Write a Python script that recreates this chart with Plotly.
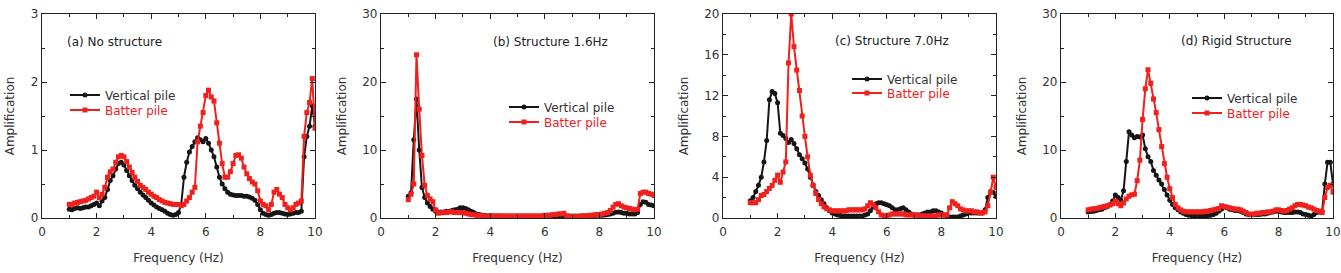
import plotly.graph_objects as go

FREQ = [1.0, 1.1, 1.2, 1.3, 1.4, 1.5, 1.6, 1.7, 1.8, 1.9,
        2.0, 2.1, 2.2, 2.3, 2.4, 2.5, 2.6, 2.7, 2.8, 2.9,
        3.0, 3.1, 3.2, 3.3, 3.4, 3.5, 3.6, 3.7, 3.8, 3.9,
        4.0, 4.1, 4.2, 4.3, 4.4, 4.5, 4.6, 4.7, 4.8, 4.9,
        5.0, 5.1, 5.2, 5.3, 5.4, 5.5, 5.6, 5.7, 5.8, 5.9,
        6.0, 6.1, 6.2, 6.3, 6.4, 6.5, 6.6, 6.7, 6.8, 6.9,
        7.0, 7.1, 7.2, 7.3, 7.4, 7.5, 7.6, 7.7, 7.8, 7.9,
        8.0, 8.1, 8.2, 8.3, 8.4, 8.5, 8.6, 8.7, 8.8, 8.9,
        9.0, 9.1, 9.2, 9.3, 9.4, 9.5, 9.6, 9.7, 9.8, 9.9,
        10.0]

# (a) No structure
VERT_A = [0.13, 0.12, 0.14, 0.15, 0.14, 0.15, 0.16, 0.16, 0.18, 0.20,
          0.22, 0.18, 0.25, 0.30, 0.42, 0.55, 0.62, 0.72, 0.80, 0.82,
          0.78, 0.70, 0.62, 0.55, 0.48, 0.43, 0.38, 0.34, 0.30, 0.26,
          0.22, 0.19, 0.16, 0.14, 0.12, 0.10, 0.07, 0.05, 0.04, 0.05,
          0.08, 0.20, 0.60, 0.82, 0.97, 1.05, 1.12, 1.18, 1.15, 1.12,
          1.17, 1.10, 1.00, 0.90, 0.75, 0.60, 0.50, 0.43, 0.38, 0.35,
          0.34, 0.33, 0.33, 0.33, 0.32, 0.32, 0.31, 0.29, 0.26, 0.20,
          0.12, 0.07, 0.05, 0.04, 0.05, 0.07, 0.08, 0.08, 0.07, 0.06,
          0.05, 0.06, 0.07, 0.08, 0.08, 0.10, 0.90, 1.20, 1.35, 1.65,
          1.35]
BATT_A = [0.20, 0.20, 0.22, 0.23, 0.24, 0.25, 0.26, 0.28, 0.30, 0.32,
          0.38, 0.30, 0.35, 0.45, 0.60, 0.68, 0.72, 0.82, 0.90, 0.92,
          0.90, 0.83, 0.75, 0.67, 0.60, 0.54, 0.48, 0.45, 0.42, 0.38,
          0.35, 0.32, 0.30, 0.27, 0.25, 0.23, 0.22, 0.21, 0.20, 0.20,
          0.20, 0.18, 0.20, 0.25, 0.30, 0.38, 0.45, 1.12, 1.35, 1.55,
          1.80, 1.88, 1.78, 1.72, 1.40, 1.10, 0.80, 0.60, 0.60, 0.68,
          0.80, 0.92, 0.93, 0.88, 0.75, 0.65, 0.58, 0.53, 0.50, 0.40,
          0.25, 0.20, 0.18, 0.12, 0.20, 0.38, 0.42, 0.35, 0.30, 0.20,
          0.15, 0.12, 0.15, 0.20, 0.22, 0.25, 1.20, 1.55, 1.70, 2.05,
          1.32]

# (b) Structure 1.6Hz
VERT_B = [3.2, 3.7, 11.5, 17.5, 10.0, 4.5, 3.0, 2.2, 1.7, 1.3,
          1.0, 0.9, 0.9, 0.9, 1.0, 1.0, 1.1, 1.2, 1.3, 1.5,
          1.5, 1.4, 1.2, 1.0, 0.8, 0.6, 0.5, 0.4, 0.35, 0.3,
          0.3, 0.3, 0.25, 0.25, 0.2, 0.2, 0.2, 0.2, 0.2, 0.2,
          0.2, 0.2, 0.2, 0.2, 0.2, 0.2, 0.2, 0.2, 0.2, 0.2,
          0.2, 0.2, 0.2, 0.25, 0.3, 0.3, 0.3, 0.35, 0.3, 0.3,
          0.3, 0.3, 0.3, 0.3, 0.3, 0.3, 0.3, 0.35, 0.35, 0.4,
          0.4, 0.4, 0.45, 0.5, 0.6, 0.7, 0.85, 0.9, 0.8, 0.7,
          0.7, 0.6, 0.6, 0.6, 0.8, 2.0, 2.4, 2.3, 2.0, 1.9,
          1.8]
BATT_B = [2.7, 3.5, 5.0, 24.0, 16.0, 9.2, 4.8, 3.3, 2.8, 2.4,
          1.2, 0.7, 0.8, 0.8, 0.8, 0.9, 0.9, 0.8, 0.8, 0.8,
          0.8, 0.7, 0.6, 0.5, 0.5, 0.4, 0.4, 0.3, 0.3, 0.3,
          0.3, 0.3, 0.3, 0.3, 0.3, 0.3, 0.3, 0.3, 0.3, 0.3,
          0.3, 0.3, 0.3, 0.3, 0.3, 0.3, 0.3, 0.3, 0.3, 0.3,
          0.4, 0.4, 0.4, 0.5, 0.5, 0.6, 0.6, 0.7, 0.3, 0.2,
          0.2, 0.2, 0.2, 0.25, 0.3, 0.3, 0.35, 0.4, 0.45, 0.5,
          0.5, 0.6, 0.7, 0.8, 1.1, 1.6, 2.0, 2.1, 1.8, 1.6,
          1.5, 1.4, 1.3, 1.2, 1.3, 3.6, 3.8, 3.8, 3.6, 3.5,
          3.3]

# (c) Structure 7.0Hz
VERT_C = [1.7, 2.0, 2.6, 3.2, 4.0, 5.5, 7.6, 11.6, 12.4, 12.2,
          11.3, 8.3, 8.1, 7.8, 7.4, 7.7, 7.3, 6.8, 6.2, 5.8,
          5.4, 4.8, 4.0, 3.2, 2.6, 2.2, 1.8, 1.4, 1.0, 0.7,
          0.5, 0.4, 0.3, 0.25, 0.2, 0.2, 0.2, 0.2, 0.2, 0.2,
          0.2, 0.2, 0.3, 0.4, 0.7, 1.1, 1.4, 1.5, 1.5, 1.4,
          1.3, 1.2, 1.0, 0.8, 0.8, 0.9, 1.0, 0.8, 0.6, 0.4,
          0.3, 0.3, 0.3, 0.4, 0.5, 0.6, 0.6, 0.7, 0.7, 0.6,
          0.5, 0.3, 0.2, 0.1, 0.1, 0.1, 0.1, 0.2, 0.3, 0.4,
          0.5, 0.5, 0.5, 0.5, 0.5, 0.5, 0.8, 2.0, 2.6, 2.5,
          2.1]
BATT_C = [1.5, 1.5, 1.5, 1.8, 2.2, 2.3, 2.6, 2.9, 3.2, 3.7,
          4.2, 3.5, 4.5, 5.5, 15.2, 20.0, 16.8, 14.5, 12.5, 10.0,
          8.0, 6.0, 4.2, 3.2, 2.4, 1.8, 1.4, 1.1, 0.9, 0.8,
          0.7, 0.7, 0.7, 0.7, 0.7, 0.7, 0.8, 0.8, 0.8, 0.8,
          0.8, 0.8, 0.9, 1.2, 1.5, 1.3, 1.0, 0.6, 0.3, 0.2,
          0.2, 0.3, 0.4, 0.4, 0.4, 0.4, 0.4, 0.3, 0.3, 0.3,
          0.3, 0.3, 0.2, 0.2, 0.2, 0.2, 0.2, 0.2, 0.2, 0.3,
          0.3, 0.3, 0.3, 1.0, 1.6, 1.4, 1.2, 0.9, 0.8, 0.7,
          0.7, 0.7, 0.6, 0.6, 0.5, 0.5, 0.6, 1.2, 2.5, 4.0,
          3.0]

# (d) Rigid Structure
VERT_D = [0.9, 0.95, 1.0, 1.1, 1.2, 1.3, 1.5, 1.7, 2.0, 2.5,
          3.4, 3.0, 2.6, 4.0, 8.3, 12.7, 12.2, 11.8, 12.0, 11.9,
          12.2, 10.2, 9.0, 8.3, 7.0, 6.3, 5.6, 5.0, 4.2, 3.4,
          2.6, 2.0, 1.5, 1.2, 0.9, 0.7, 0.5, 0.4, 0.35, 0.3,
          0.3, 0.3, 0.3, 0.3, 0.35, 0.4, 0.5, 0.7, 1.0, 1.3,
          1.6, 1.5, 1.3, 1.2, 1.1, 1.1, 1.0, 0.8, 0.6, 0.5,
          0.5, 0.5, 0.5, 0.5, 0.6, 0.6, 0.7, 0.8, 0.9, 1.0,
          1.0, 0.9, 0.8, 0.8, 0.8, 0.8, 0.9, 0.9, 0.8, 0.6,
          0.5, 0.4, 0.3, 0.5, 0.8, 0.9, 1.0, 5.0, 8.2, 8.2,
          5.0]
BATT_D = [1.2, 1.3, 1.35, 1.4, 1.5, 1.6, 1.7, 1.8, 1.9, 2.1,
          2.5, 2.1, 1.8, 2.2, 2.8, 3.2, 3.4, 3.5, 5.5, 8.5,
          14.5, 19.0, 21.8, 19.8, 17.5, 15.5, 13.0, 10.5, 8.0, 6.0,
          4.3, 3.0, 2.0, 1.5, 1.2, 1.0, 0.9, 0.9, 0.9, 0.9,
          0.9, 0.9, 0.9, 1.0, 1.0, 1.1, 1.2, 1.3, 1.4, 1.8,
          1.7, 1.6, 1.5, 1.4, 1.3, 1.3, 1.2, 1.0, 0.8, 0.6,
          0.5, 0.6, 0.7, 0.7, 0.8, 0.8, 0.9, 0.9, 1.0, 1.2,
          1.2, 1.1, 1.0, 1.1, 1.3, 1.5, 1.8, 2.0, 2.0, 1.9,
          1.8, 1.6, 1.5, 1.3, 1.1, 1.0, 0.8, 3.0, 4.5, 4.8,
          3.8]

PANEL_TITLES = ["(a) No structure", "(b) Structure 1.6Hz",
                "(c) Structure 7.0Hz", "(d) Rigid Structure"]
SERIES_NAMES = ["Vertical pile", "Batter pile"]
Y_RANGES = [[0, 3], [0, 30], [0, 20], [0, 30]]
Y_DTICKS = [1, 10, 4, 10]
X_TICKS = [0, 2, 4, 6, 8, 10]

vert = [VERT_A, VERT_B, VERT_C, VERT_D]
batt = [BATT_A, BATT_B, BATT_C, BATT_D]

W, H = 1341, 273
FONT = "DejaVu Sans"
FS = 12
TXT = "#333333"
BLACK = "#151515"
RED = "#f0201c"

# pixel layout of the four plot areas
px_left = [42, 381, 723, 1061]
px_right = [315, 654, 996, 1333]
px_top, px_bot = 14, 218
# legend text start x and item centre y (pixels) for each panel
leg_text_x = [107, 546, 889, 1229]
leg_y = [(95, 110), (107, 122), (79, 93), (98, 113)]
title_px = [(65, 42), (491, 42), (833, 41), (1179, 41)]

fig = go.Figure()
layout = dict(
    width=W, height=H,
    margin=dict(l=0, r=0, t=0, b=0),
    paper_bgcolor="white", plot_bgcolor="white",
    font=dict(family=FONT, size=FS, color=TXT),
    showlegend=True,
    annotations=[],
)

styles = [
    dict(color=BLACK, symbol="circle"),
    dict(color=RED, symbol="square"),
]

for i in range(4):
    sfx = "" if i == 0 else str(i + 1)
    xa, ya = "x" + sfx, "y" + sfx
    for k, ys in enumerate([vert[i], batt[i]]):
        leg_idx = 2 * i + k + 1
        leg = "legend" if leg_idx == 1 else "legend" + str(leg_idx)
        st = styles[k]
        fig.add_trace(go.Scatter(
            x=FREQ, y=ys, name=SERIES_NAMES[k], xaxis=xa, yaxis=ya,
            mode="lines+markers", legend=leg, showlegend=True,
            line=dict(color=st["color"], width=2),
            marker=dict(symbol=st["symbol"], size=5, color=st["color"]),
            cliponaxis=True))
        layout[leg] = dict(
            x=(leg_text_x[i] - 42) / W, y=1 - leg_y[i][k] / H,
            xanchor="left", yanchor="middle",
            bgcolor="rgba(0,0,0,0)", borderwidth=0,
            font=dict(family=FONT, size=FS, color=st["color"] if k == 1 else TXT),
            itemwidth=30, visible=True,
        )

    x0 = px_left[i] / W
    x1 = px_right[i] / W
    y0 = 1 - px_bot / H
    y1 = 1 - px_top / H
    axcommon = dict(
        showline=True, linecolor="#222222", linewidth=1.2, mirror="allticks",
        ticks="inside", ticklen=5, tickwidth=1, tickcolor="#222222",
        showgrid=False, zeroline=False, automargin=False,
        tickfont=dict(family=FONT, size=FS, color=TXT),
    )
    layout["xaxis" + sfx] = dict(
        axcommon, domain=[x0, x1], anchor=ya, range=[0, 10],
        tickvals=X_TICKS, ticklabelstandoff=2,
        minor=dict(dtick=1, ticks="inside", ticklen=3, tickcolor="#222222"),
        title=dict(text="Frequency (Hz)", standoff=16,
                   font=dict(family=FONT, size=FS, color=TXT)),
    )
    layout["yaxis" + sfx] = dict(
        axcommon, domain=[y0, y1], anchor=xa, range=Y_RANGES[i],
        dtick=Y_DTICKS[i], tick0=0,
        minor=dict(dtick=Y_DTICKS[i] / 2, ticks="inside", ticklen=3,
                   tickcolor="#222222"),
        title=dict(text="Amplification", standoff=13,
                   font=dict(family=FONT, size=FS, color=TXT)),
    )
    tx, ty = title_px[i]
    layout["annotations"].append(dict(
        text=PANEL_TITLES[i], xref="paper", yref="paper",
        x=tx / W, y=1 - ty / H, xanchor="left", yanchor="middle",
        showarrow=False, font=dict(family=FONT, size=FS, color="#222222"),
    ))

fig.update_layout(**layout)
fig.write_html("out.html")
